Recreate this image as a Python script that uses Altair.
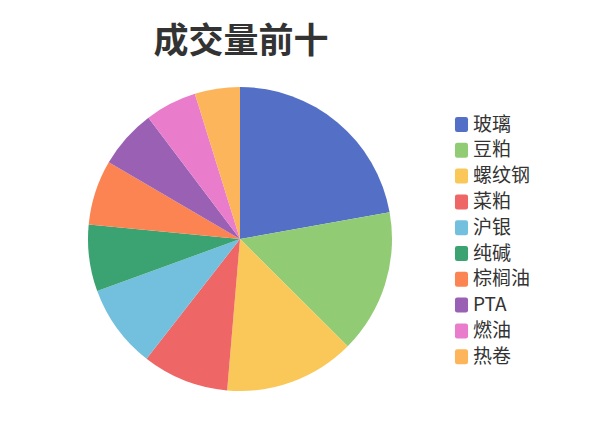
import altair as alt
import pandas as pd

categories = ["玻璃", "豆粕", "螺纹钢", "菜粕", "沪银", "纯碱", "棕榈油", "PTA", "燃油", "热卷"]
values = [22.2, 15.3, 13.9, 9.2, 8.9, 7.1, 6.9, 6.3, 5.5, 4.8]
colors = ["#5470c6", "#91cc75", "#fac858", "#ee6666", "#73c0de",
          "#3ba272", "#fc8452", "#9a60b4", "#ea7ccc", "#fcb55b"]
title_text = ["成交量前十"]

df = pd.DataFrame({"name": categories, "value": values, "order": list(range(len(categories)))})
tdf = pd.DataFrame({"t": title_text})

FONT = "Noto Sans CJK SC"
rounded = ("M-0.57,-1 L0.57,-1 Q0.87,-1 0.87,-0.7 L0.87,0.7 Q0.87,1 0.57,1 "
           "L-0.57,1 Q-0.87,1 -0.87,0.7 L-0.87,-0.7 Q-0.87,-1 -0.57,-1 Z")

pie = alt.Chart(df).mark_arc(radius=152).encode(
    theta=alt.Theta("value:Q", stack=True),
    order=alt.Order("order:Q"),
    x=alt.value(232),
    y=alt.value(231),
    color=alt.Color(
        "name:N",
        scale=alt.Scale(domain=categories, range=colors),
        sort=categories,
        legend=alt.Legend(
            title=None,
            orient="none",
            legendX=444,
            legendY=107,
            padding=0,
            symbolType=rounded,
            symbolSize=225,
            symbolStrokeWidth=0,
            symbolOpacity=1,
            labelFont=FONT,
            labelFontSize=19,
            labelColor="#333333",
            labelOffset=2,
            rowPadding=5.8,
        ),
    ),
)

title = alt.Chart(tdf).mark_text(
    font=FONT, fontSize=35, fontWeight="bold", color="#333333",
    align="center", baseline="middle",
).encode(text="t:N", x=alt.value(233), y=alt.value(34))

chart = alt.layer(pie, title).properties(
    width=584, height=412,
    autosize=alt.AutoSizeParams(type="none"),
    padding=0,
).configure_view(stroke=None)

chart.save("out.html", embed_options={"renderer": "svg", "actions": False})
